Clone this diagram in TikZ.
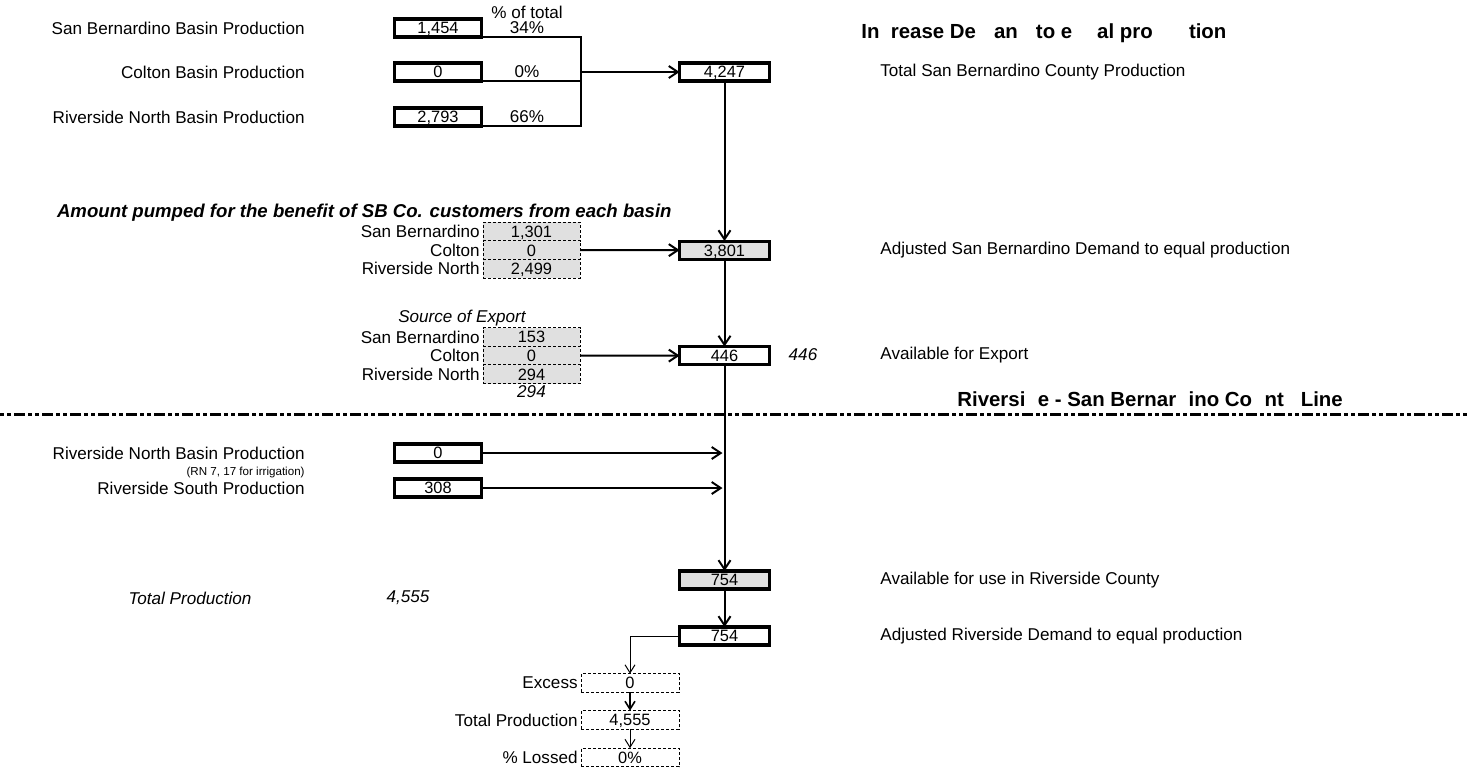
\documentclass[tikz,border=0pt]{standalone}
\usepackage{fontspec}
\setmainfont{Liberation Sans}
\usetikzlibrary{arrows.meta, positioning}

\begin{document}
\begin{tikzpicture}[x=0.5pt, y=-0.5pt,
  every node/.style={font=\fontsize{8.55}{10}\selectfont, inner sep=0pt},
  inbox/.style={rectangle, draw=black, line width=1.6pt, fill=white,
                font=\fontsize{8.2}{10}\selectfont, text height=5.9pt, text depth=0pt,
                minimum width=43.4pt, minimum height=9pt, outer sep=0pt},
  sumbox/.style={inbox, minimum width=44.9pt},
  greybox/.style={sumbox, fill=black!12},
  srcbox/.style={rectangle, draw=black, line width=0.5pt,
                 dash pattern=on 1.5pt off 1pt, fill=black!12,
                 font=\fontsize{8.2}{10}\selectfont, text height=5.9pt, text depth=0pt,
                 minimum width=48.5pt, minimum height=9.3pt, outer sep=0pt},
  chkbox/.style={srcbox, fill=white, minimum width=49pt, minimum height=9.3pt},
  lbl/.style={anchor=east},
  note/.style={anchor=west},
  it/.style={font=\fontsize{8.55}{10}\selectfont\itshape},
  hdr/.style={anchor=west, font=\fontsize{10.2}{12}\selectfont\bfseries},
  flow/.style={-{Straight Barb[length=4.5pt, width=6pt]}, line width=1pt},
  thinflow/.style={-{Straight Barb[length=4pt, width=5pt]}, line width=0.5pt},
  tie/.style={line width=0.6pt},
  county/.style={line width=1.5pt,
                 dash pattern=on 2pt off 1.5pt on 2pt off 1.5pt on 5.5pt off 1.5pt}
]
\useasboundingbox (0,0) rectangle (1469,782);

\def\xL{305}
\def\xB{438}
\def\xP{527}
\def\xK{581}
\def\xM{724.5}
\def\xR{880}
\def\xS{531.5}
\def\xT{630}

\node[hdr] (title) at (861,33)
  {In\phantom{c}rease De\phantom{m}an\phantom{d} to e\phantom{qu}al pro\phantom{duc}tion};
\node (pct) at (\xP,12) {\% of total};

% San Bernardino County production
\node[lbl] (sbl) at (\xL,28) {San Bernardino Basin Production};
\node[lbl] (col) at (\xL,72) {Colton Basin Production};
\node[lbl] (rnl) at (\xL,117) {Riverside North Basin Production};
\node[inbox] (sbp) at (\xB,28) {1,454};
\node[inbox] (cop) at (\xB,72) {0};
\node[inbox] (rnp) at (\xB,117) {2,793};
\node (sbpct) at (\xP,28) {34\%};
\node (copct) at (\xP,72) {0\%};
\node (rnpct) at (\xP,117) {66\%};

\node[sumbox] (tot) at (\xM,72) {4,247};
\node[note] (totl) at (\xR,72) {Total San Bernardino County Production};

\coordinate (kmid) at (\xK,72);
\draw[tie] (sbp.south east) -- (sbp.south east -| kmid) -- (rnp.south east -| kmid)
  -- (rnp.south east);
\draw[tie] (cop.south east) -- (cop.south east -| kmid);
\draw[flow] (kmid) -- (tot);

% amount pumped for SB Co.
\node[anchor=east, font=\fontsize{9.3}{11}\selectfont\bfseries\itshape] (pump) at (672,213)
  {Amount pumped for the benefit of SB Co. customers from each basin};
\node[srcbox] (sb1) at (\xS,231.5) {1,301};
\node[srcbox, below=0pt of sb1] (sb2) {0};
\node[srcbox, below=0pt of sb2] (sb3) {2,499};
\node[left=1.5pt of sb1] {San Bernardino};
\node[left=1.5pt of sb2] {Colton};
\node[left=1.5pt of sb3] {Riverside North};

\node[greybox] (adj) at (\xM,250.1) {3,801};
\node[note] (adjl) at (\xR,250) {Adjusted San Bernardino Demand to equal production};

\draw[flow] (tot) -- (adj);
\draw[flow] (sb2) -- (adj);

% source of export
\node[it] (srchd) at (462,318) {Source of Export};
\node[srcbox] (ex1) at (\xS,337) {153};
\node[srcbox, below=0pt of ex1] (ex2) {0};
\node[srcbox, below=0pt of ex2] (ex3) {294};
\node[left=1.5pt of ex1] {San Bernardino};
\node[left=1.5pt of ex2] {Colton};
\node[left=1.5pt of ex3] {Riverside North};
\node[it] (exsum) at (\xS,392) {294};

\node[sumbox] (exp) at (\xM,355.6) {446};
\node[it] (expv) at (803,355) {446};
\node[note] (expl) at (\xR,355) {Available for Export};

\draw[flow] (adj) -- (exp);
\draw[flow] (ex2) -- (exp);

% county line
\node[hdr] (cline) at (957,401)
  {Riversi\phantom{d}e - San Bernar\phantom{d}ino Co\phantom{u}nt\phantom{y} Line};
\draw[county] (0,414) -- (1469,414);

% Riverside County
\node[lbl] (rnl2) at (\xL,453) {Riverside North Basin Production};
\node[lbl, font=\fontsize{5.8}{7}\selectfont] (rnnote) at (\xL,472) {(RN 7, 17 for irrigation)};
\node[lbl] (rsl) at (\xL,488) {Riverside South Production};
\node[inbox] (rn2) at (\xB,453) {0};
\node[inbox] (rs) at (\xB,488) {308};

\node[greybox] (riv) at (\xM,580) {754};
\node[note] (rivl) at (\xR,580) {Available for use in Riverside County};

\draw[flow] (exp) -- (riv);
\draw[flow, shorten >=1pt] (rn2) -- (rn2 -| riv.north);
\draw[flow, shorten >=1pt] (rs) -- (rs -| riv.north);

\node[it] (totp) at (190,598) {Total Production};
\node[it] (totv) at (408,598) {4,555};

\node[sumbox] (rd) at (\xM,636) {754};
\node[note] (rdl) at (\xR,636) {Adjusted Riverside Demand to equal production};
\draw[flow] (riv) -- (rd);

% check of losses
\node[chkbox] (exc) at (\xT,683) {0};
\node[chkbox] (tp) at (\xT,720) {4,555};
\node[chkbox] (pl) at (\xT,757.5) {0\%};
\node[left=1.5pt of exc] {Excess};
\node[left=1.5pt of tp] {Total Production};
\node[left=1.5pt of pl] {\% Lossed};

\draw[thinflow] (rd.west) -| (exc);
\draw[thinflow, line width=0.8pt] (exc) -- (tp);
\draw[thinflow] (tp) -- (pl);
\end{tikzpicture}
\end{document}
